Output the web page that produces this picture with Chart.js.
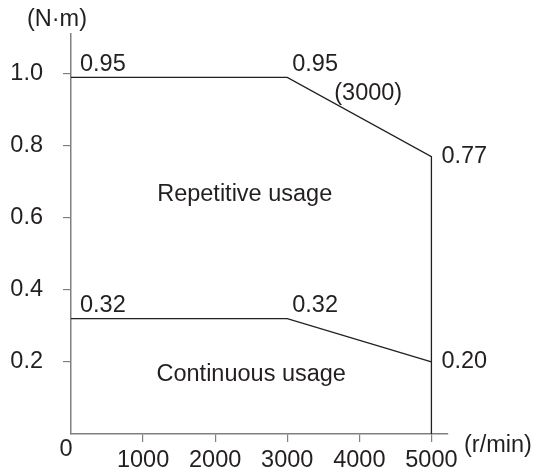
<!DOCTYPE html>
<html>
<head>
<meta charset="utf-8">
<script src="https://cdn.jsdelivr.net/npm/chart.js@4.4.1/dist/chart.umd.min.js"></script>
<style>
  body { margin: 0; background: #fff; }
</style>
</head>
<body>
<canvas id="myChart" width="538" height="470"></canvas>
<script>
// speed points (r/min)
const speeds = [0, 3000, 5000, 5000];
// repetitive usage torque, as drawn (N·m)
const repetitiveTorque = [0.99, 0.99, 0.77, 0];
// continuous usage torque (N·m)
const continuousTorque = [0.32, 0.32, 0.20];
const xTicks = [1000, 2000, 3000, 4000, 5000];
const yTicks = [0.2, 0.4, 0.6, 0.8, 1.0];
const repetitiveLabels = ['0.95', '0.95', '0.77'];
const continuousLabels = ['0.32', '0.32', '0.20'];

const FONT = '23.5px "Liberation Sans", Arial, sans-serif';
const TEXT = '#231f20';
const AXIS = '#808080';

function pts(xs, ys) {
    return ys.map(function (y, i) { return { x: xs[i], y: y }; });
}

// writes the value labels and region names onto the chart
const notesPlugin = {
    id: 'notes',
    afterDraw: function (chart) {
        const c = chart.ctx;
        const xs = chart.scales.x, ys = chart.scales.y;
        const px = function (v) { return xs.getPixelForValue(v); };
        const py = function (v) { return ys.getPixelForValue(v); };
        c.save();
        c.font = FONT;
        c.fillStyle = TEXT;

        c.textAlign = 'left';
        c.textBaseline = 'alphabetic';
        c.fillText(repetitiveLabels[0], px(speeds[0]) + 9, py(repetitiveTorque[0]) - 6);
        c.fillText(repetitiveLabels[1], px(speeds[1]) + 5, py(repetitiveTorque[1]) - 6);
        c.fillText(continuousLabels[0], px(speeds[0]) + 9, py(continuousTorque[0]) - 7);
        c.fillText(continuousLabels[1], px(speeds[1]) + 5, py(continuousTorque[1]) - 7);

        c.textBaseline = 'middle';
        c.fillText('(3000)', px(speeds[1]) + 47, py(repetitiveTorque[1]) + 16);
        c.fillText(repetitiveLabels[2], px(speeds[2]) + 10, py(repetitiveTorque[2]));
        c.fillText(continuousLabels[2], px(speeds[2]) + 10, py(continuousTorque[2]));
        c.fillText('(r/min)', chart.chartArea.right + 16, chart.chartArea.bottom + 12);

        c.textAlign = 'center';
        c.fillText('Repetitive usage', px(2410), py(0.665));
        c.fillText('Continuous usage', px(2500), py(0.166));
        c.fillText('(N\u00b7m)', 57, 20);
        c.fillText('0', px(0) - 5, chart.chartArea.bottom + 16);
        c.restore();
    }
};

function myLoadFunction() {
    const ctx = document.getElementById('myChart').getContext('2d');
    const myChart = new Chart(ctx, {
        type: 'scatter',
        data: {
            datasets: [
                {
                    label: 'Repetitive usage',
                    data: pts(speeds, repetitiveTorque),
                    showLine: true,
                    borderColor: '#231f20',
                    borderWidth: 1.3,
                    pointRadius: 0,
                    fill: false
                },
                {
                    label: 'Continuous usage',
                    data: pts(speeds, continuousTorque),
                    showLine: true,
                    borderColor: '#231f20',
                    borderWidth: 1.3,
                    pointRadius: 0,
                    fill: false
                }
            ]
        },
        options: {
            responsive: false,
            animation: false,
            layout: { padding: { top: 33, right: 90, bottom: 0, left: 0 } },
            plugins: {
                legend: { display: false },
                tooltip: { enabled: false }
            },
            scales: {
                x: {
                    type: 'linear',
                    min: 0,
                    max: 5230,
                    afterBuildTicks: function (s) {
                        s.ticks = xTicks.map(function (v) { return { value: v }; });
                    },
                    afterFit: function (s) { s.height = 36; },
                    ticks: {
                        font: { family: '"Liberation Sans", Arial, sans-serif', size: 23.5 },
                        color: TEXT,
                        padding: 4,
                        maxRotation: 0,
                        autoSkip: false,
                        callback: function (v) { return String(v); }
                    },
                    grid: { drawOnChartArea: false, drawTicks: true, tickLength: 8, color: AXIS, lineWidth: 1.2 },
                    border: { display: true, color: AXIS, width: 1.5 }
                },
                y: {
                    min: 0,
                    max: 1.11,
                    afterBuildTicks: function (s) {
                        s.ticks = yTicks.map(function (v) { return { value: v }; });
                    },
                    afterFit: function (s) { s.width = 71; },
                    ticks: {
                        font: { family: '"Liberation Sans", Arial, sans-serif', size: 23.5 },
                        color: TEXT,
                        padding: 20,
                        callback: function (v) { return v.toFixed(1); }
                    },
                    grid: { drawOnChartArea: false, drawTicks: true, tickLength: 8, color: AXIS, lineWidth: 1.2 },
                    border: { display: true, color: AXIS, width: 1.5 }
                }
            }
        },
        plugins: [notesPlugin]
    });
}

document.addEventListener('DOMContentLoaded', myLoadFunction);
</script>
</body>
</html>
